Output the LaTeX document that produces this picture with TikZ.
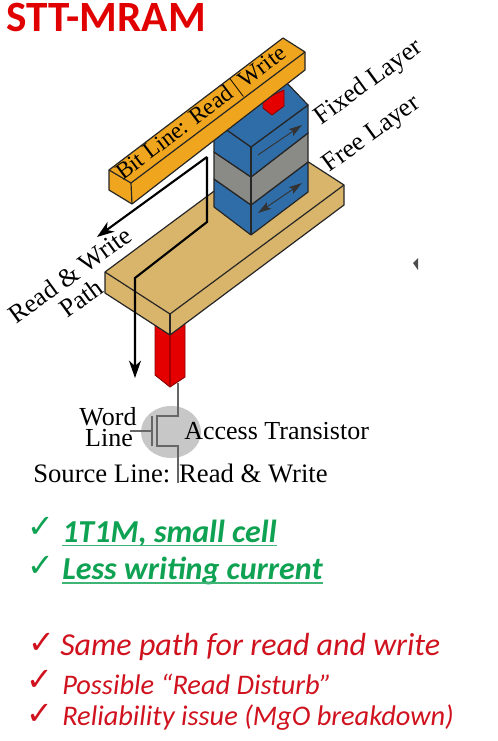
\documentclass[tikz,border=0pt]{standalone}
\usepackage{fontspec}
\setmainfont{Liberation Serif}
\newfontfamily\slidefont{Carlito}
\newfontfamily\tickfont{DejaVu Sans}
\usetikzlibrary{arrows.meta}
\definecolor{barOrange}{HTML}{EFA51E}
\definecolor{stackBlue}{HTML}{2F6DA8}
\definecolor{stackGray}{HTML}{8A8A86}
\definecolor{plateTan}{HTML}{D9B56C}
\definecolor{slideRed}{HTML}{D0121E}
\definecolor{slideGreen}{HTML}{0FA253}
\newcommand{\labelSize}[0]{\fontsize{19.5}{19.5}\selectfont}
\newcommand{\badSize}[0]{\fontsize{21.3}{21.3}\selectfont}
\tikzset{
  solid face/.style={draw=black!85, line width=0.9pt, line join=round},
  via face/.style={draw=red!55!black, line width=0.7pt, line join=round},
  layer label/.style={font=\labelSize, inner sep=0pt, rotate=36},
  flat label/.style={font=\labelSize, inner sep=0pt, anchor=west},
  path line/.style={draw=black, line width=1.6pt, line join=miter},
  path tip/.style={-{Stealth[length=13pt,width=9pt,inset=4pt]}},
  spin arrow/.style={draw=black!80, line width=0.7pt},
  mos wire/.style={draw=black!60, line width=0.9pt},
  tick/.style={font=\tickfont\fontsize{24}{24}\selectfont, inner sep=0pt},
  good item/.style={font=\slidefont\bfseries\itshape\fontsize{24}{24}\selectfont, text=slideGreen, inner sep=0pt, anchor=west},
  bad item/.style={font=\slidefont\itshape\badSize, text=slideRed, inner sep=0pt, anchor=west},
  good line/.style={draw=slideGreen!80, line width=1.3pt}
}
\begin{document}
\begin{tikzpicture}[x=0.75pt, y=-0.75pt]
  \useasboundingbox (0,0) rectangle (497,741);
  % title
  \node[font=\slidefont\bfseries\fontsize{32.4}{32.4}\selectfont, text=red!88!black, inner sep=0pt, anchor=west] (title) at (6,17) {STT-MRAM};
  % via under the plate
  \draw[via face, fill=red!90!black] (155,320) -- (155,375) -- (170,387) -- (170,320);
  \draw[via face, fill=red!90!black] (185,320) -- (185,377) -- (170,387) -- (170,320);
  \draw[red!65!black, line width=2.2pt] (170,330) -- (170,386);
  % plate
  \draw[solid face, fill=plateTan] (105,272) -- (279,143) -- (344,185) -- (344,205) -- (170,335) -- (105,293) -- cycle;
  \draw[solid face] (105,272) -- (170,314) -- (344,185);
  \draw[solid face] (170,314) -- (170,335);
  % stack
  \draw[solid face, fill=stackBlue] (214,179) -- (251,205) -- (308,162) -- (308,192) -- (251,235) -- (214,207) -- cycle;
  \draw[solid face] (251,205) -- (251,235);
  \draw[solid face, fill=stackGray] (214,152) -- (251,177) -- (308,133) -- (308,162) -- (251,205) -- (214,179) -- cycle;
  \draw[solid face] (251,177) -- (251,205);
  \draw[solid face, fill=stackBlue] (214,121) -- (251,147) -- (308,105) -- (308,133) -- (251,177) -- (214,152) -- cycle;
  \draw[solid face, fill=stackBlue] (214,121) -- (251,147) -- (308,105) -- (284,80) -- (270,80) -- cycle;
  \draw[solid face] (251,147) -- (251,177);
  % contact
  \draw[via face, fill=red!90!black] (263,100) -- (263,108) -- (272,115) -- (284,106) -- (284,90) -- cycle;
  % spin arrows
  \coordinate (fixed-a) at (258,155);
  \coordinate (fixed-b) at (302,125);
  \coordinate (free-a) at (258,213);
  \coordinate (free-b) at (302,183);
  \draw[spin arrow, -{Stealth[length=10pt,width=6pt,inset=2pt]}] (fixed-a) -- (fixed-b);
  \draw[spin arrow, {Stealth[length=10pt,width=6pt,inset=2pt]}-{Stealth[length=10pt,width=6pt,inset=2pt]}] (free-a) -- (free-b);
  % read and write path
  \coordinate (path-top) at (207,157);
  \coordinate (path-end) at (97,237);
  \coordinate (path-mid) at (207,222);
  \coordinate (path-low) at (135,278);
  \coordinate (path-out) at (135,378);
  \draw[path line, path tip] (path-top) -- (path-end);
  \draw[path line, path tip] (path-top) -- (path-mid) -- (path-low) -- (path-out);
  % bit line
  \draw[solid face, fill=barOrange] (109,170) -- (283,38) -- (305,52) -- (305,70) -- (132,204) -- (109,190) -- cycle;
  \draw[solid face] (109,170) -- (131,183) -- (305,52);
  \draw[solid face] (131,183) -- (132,204);
  \node[layer label, rotate=1, font=\fontsize{17.5}{17.5}\selectfont] (bitLine) at (202,114) {Bit Line: Read\,$|$\,Write};
  % transistor
  \fill[black!22] (171,432) ellipse (30 and 26);
  \coordinate (drain-top) at (178,383);
  \coordinate (drain-in) at (178,416);
  \coordinate (chan-a) at (157,416);
  \coordinate (chan-b) at (157,446);
  \coordinate (source-in) at (178,446);
  \coordinate (source-end) at (178,483);
  \coordinate (gate-a) at (152,416);
  \coordinate (gate-b) at (152,446);
  \coordinate (gate-in) at (130,431);
  \coordinate (gate-mid) at (152,431);
  \draw[mos wire] (drain-top) -- (drain-in) -- (chan-a) -- (chan-b) -- (source-in) -- (source-end);
  \draw[mos wire] (gate-a) -- (gate-b);
  \draw[mos wire] (gate-in) -- (gate-mid);
  % labels
  \node[layer label] (fixedLayer) at (369,83) {Fixed Layer};
  \node[layer label] (freeLayer) at (372,135) {Free Layer};
  \node[layer label] (rwLabel) at (70,275) {Read \& Write};
  \node[layer label] (pathLabel) at (81,298) {Path};
  \node[font=\labelSize, inner sep=0pt] (wordLabel) at (108,417) {Word};
  \node[font=\labelSize, inner sep=0pt] (lineLabel) at (109,438) {Line};
  \node[flat label] (accessLabel) at (184,431) {Access Transistor};
  \node[flat label, font=\fontsize{20}{20}\selectfont] (sourceLabel) at (33,473) {Source Line: Read \& Write};
  % speck
  \fill[black!70] (413,263) -- (418,258) -- (418,270) -- cycle;
  % good points
  \node[tick, text=slideGreen] (tickA) at (41,527) {✓};
  \node[good item] (itemA) at (62,533) {1T1M, small cell};
  \draw[good line] ([yshift=-2.5pt]itemA.base west) -- ([yshift=-2.5pt]itemA.base east);
  \node[tick, text=slideGreen] (tickB) at (41,566) {✓};
  \node[good item] (itemB) at (62,571) {Less writing current};
  \draw[good line] ([yshift=-2.5pt]itemB.base west) -- ([yshift=-2.5pt]itemB.base east);
  % bad points
  \node[tick, text=slideRed] (tickC) at (42,643) {✓};
  \node[bad item, font=\slidefont\itshape\fontsize{24}{24}\selectfont] (itemC) at (60,647) {Same path for read and write};
  \node[tick, text=slideRed] (tickD) at (40,680) {✓};
  \node[bad item] (itemD) at (62,684) {Possible “Read Disturb”};
  \node[tick, text=slideRed] (tickE) at (40,714) {✓};
  \node[bad item] (itemE) at (62,718) {Reliability issue (MgO breakdown)};
\end{tikzpicture}
\end{document}
